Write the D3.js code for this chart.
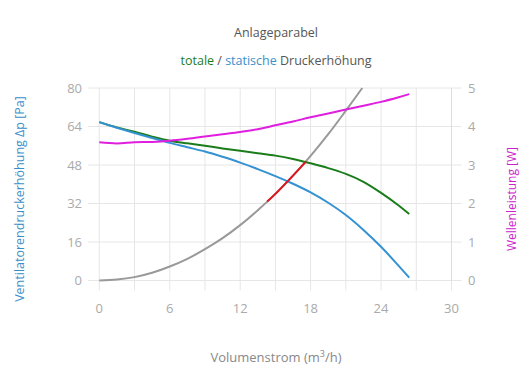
<!DOCTYPE html>
<html>
<head>
<meta charset="utf-8">
<script src="https://cdn.jsdelivr.net/npm/d3@7"></script>
<style>
  body { margin: 0; background: #fff; }
  text { font-family: "Open Sans", "Noto Sans", sans-serif; }
</style>
</head>
<body>
<div id="chart"></div>
<script>
// sample points along the flow axis (m3/h)
const flow = [0, 1.5, 3, 4.5, 6, 7.5, 9, 10.5, 12, 13.5, 15, 16.5, 18, 19.5, 21, 22.5, 24, 25.5, 26.4];
// statische Druckerhöhung (Pa)
const staticP = [65.8, 63.5, 61.3, 59.2, 57.2, 55.4, 53.6, 51.4, 49.0, 46.3, 43.4, 40.2, 36.6, 32.3, 27.2, 21.0, 14.0, 6.1, 1.2];
// totale Druckerhöhung (Pa)
const totalP = [65.8, 63.6, 61.8, 59.8, 58.1, 57.0, 56.0, 54.9, 53.9, 52.9, 51.9, 50.5, 48.7, 46.7, 44.3, 41.0, 36.4, 31.2, 27.6];
// Wellenleistung (W)
const power = [3.59, 3.56, 3.59, 3.60, 3.63, 3.68, 3.74, 3.80, 3.86, 3.93, 4.03, 4.13, 4.24, 4.34, 4.44, 4.54, 4.64, 4.76, 4.84];

// Anlageparabel
const sysFlow = [0, 1.5, 3, 4.5, 6, 7.5, 9, 10.5, 12, 13.5, 15, 16.5, 18, 19.5, 21, 22.4];
const sysP = [0, 0.4, 1.4, 3.2, 5.8, 9.0, 13.0, 17.6, 23.0, 29.2, 36.0, 43.6, 51.8, 60.8, 70.6, 80.0];
// operating range segment
const opFlow = [14.3, 15, 16.5, 17.6];
const opP = [32.8, 36.0, 43.6, 49.4];

const xTicks = [0, 6, 12, 18, 24, 30];
const yTicks = [0, 16, 32, 48, 64, 80];
const y2Ticks = [0, 1, 2, 3, 4, 5];

const width = 530, height = 390;
const plot = { left: 99.3, right: 451.5, top: 88, bottom: 280.5 };

const x = d3.scaleLinear().domain([0, 30]).range([plot.left, plot.right]);
const y = d3.scaleLinear().domain([0, 80]).range([plot.bottom, plot.top]);
const y2 = d3.scaleLinear().domain([0, 5]).range([plot.bottom, plot.top]);

const svg = d3.select('#chart').append('svg')
    .attr('width', width)
    .attr('height', height);

const gridColor = '#e6e6e6';
const tickColor = '#aaa';

// vertical grid every 3 units, reaching a bit below the plot
svg.append('g').selectAll('line').data(d3.range(0, 31, 3)).enter()
    .append('line')
    .attr('x1', d => x(d)).attr('x2', d => x(d))
    .attr('y1', plot.top).attr('y2', plot.bottom + 10)
    .attr('stroke', gridColor).attr('stroke-width', 1);

// horizontal grid with tick extensions on both sides
svg.append('g').selectAll('line').data(yTicks).enter()
    .append('line')
    .attr('x1', plot.left - 11).attr('x2', plot.right + 10)
    .attr('y1', d => y(d)).attr('y2', d => y(d))
    .attr('stroke', gridColor).attr('stroke-width', 1);

// right axis line
svg.append('line')
    .attr('x1', plot.right).attr('x2', plot.right)
    .attr('y1', plot.top).attr('y2', plot.bottom)
    .attr('stroke', '#ddd');

// tick labels
svg.append('g').selectAll('text').data(xTicks).enter()
    .append('text')
    .attr('x', d => x(d)).attr('y', 313)
    .attr('text-anchor', 'middle')
    .attr('font-size', 13).attr('fill', tickColor)
    .text(d => d);

svg.append('g').selectAll('text').data(yTicks).enter()
    .append('text')
    .attr('x', 82).attr('y', d => y(d) + 4.5)
    .attr('text-anchor', 'end')
    .attr('font-size', 13).attr('fill', tickColor)
    .text(d => d);

svg.append('g').selectAll('text').data(y2Ticks).enter()
    .append('text')
    .attr('x', 468).attr('y', d => y2(d) + 4.5)
    .attr('text-anchor', 'start')
    .attr('font-size', 13).attr('fill', tickColor)
    .text(d => d);

// titles
svg.append('text')
    .attr('x', 276).attr('y', 37)
    .attr('text-anchor', 'middle')
    .attr('font-size', 12.5).attr('fill', '#555')
    .text('Anlageparabel');

const sub = svg.append('text')
    .attr('x', 276).attr('y', 65)
    .attr('text-anchor', 'middle')
    .attr('font-size', 12.5).attr('fill', '#555');
sub.append('tspan').attr('fill', '#1d7d1d').text('totale');
sub.append('tspan').text(' / ');
sub.append('tspan').attr('fill', '#3a8fc9').text('statische');
sub.append('tspan').text(' Druckerhöhung');

svg.append('text')
    .attr('x', 276).attr('y', 362)
    .attr('text-anchor', 'middle')
    .attr('font-size', 13).attr('fill', '#888')
    .html('Volumenstrom (m<tspan dy="-5" font-size="9">3</tspan><tspan dy="5">/h)</tspan>');

svg.append('text')
    .attr('transform', 'translate(24,199) rotate(-90)')
    .attr('text-anchor', 'middle')
    .attr('font-size', 12.5).attr('fill', '#3a8fc9')
    .text('Ventilatorendruckerhöhung Δp [Pa]');

svg.append('text')
    .attr('transform', 'translate(516,199) rotate(-90)')
    .attr('text-anchor', 'middle')
    .attr('font-size', 12).attr('fill', '#cc22cc')
    .text('Wellenleistung [W]');

// curves
const lineP = d3.line().x(d => x(d[0])).y(d => y(d[1])).curve(d3.curveCatmullRom);
const lineW = d3.line().x(d => x(d[0])).y(d => y2(d[1])).curve(d3.curveCatmullRom);

function addCurve(gen, xs, ys, color) {
    svg.append('path')
        .datum(d3.zip(xs, ys))
        .attr('d', gen)
        .attr('fill', 'none')
        .attr('stroke', color)
        .attr('stroke-width', 2)
        .attr('stroke-linejoin', 'round');
}

addCurve(lineP, sysFlow, sysP, '#999999');
addCurve(lineP, flow, totalP, '#1a7d1a');
addCurve(lineP, flow, staticP, '#3592d2');
addCurve(lineP, opFlow, opP, '#e0141c');
addCurve(lineW, flow, power, '#e01ee0');
</script>
</body>
</html>
